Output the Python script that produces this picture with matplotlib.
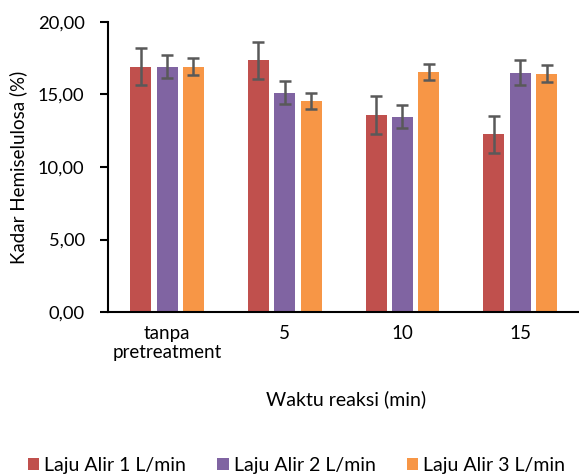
import numpy as np
import matplotlib
matplotlib.use("Agg")
import matplotlib.pyplot as plt
from matplotlib.ticker import FuncFormatter

plt.rcParams["font.family"] = ["Lato", "DejaVu Sans"]

categories = ["tanpa\npretreatment", "5", "10", "15"]
series = ["Laju Alir 1 L/min", "Laju Alir 2 L/min", "Laju Alir 3 L/min"]
laju1 = [16.92, 17.35, 13.59, 12.25]
laju2 = [16.92, 15.12, 13.47, 16.50]
laju3 = [16.92, 14.55, 16.55, 16.44]
err1 = [1.28, 1.27, 1.30, 1.27]
err2 = [0.82, 0.80, 0.80, 0.85]
err3 = [0.57, 0.56, 0.57, 0.57]

colors = ["#C0504D", "#8064A2", "#F79646"]
FS = 13.5

fig = plt.figure(figsize=(5.79, 4.75), dpi=100)
ax = fig.add_axes([0.187, 0.343, 0.813, 0.611])

x = np.arange(len(categories))
width = 0.178
step = 0.224
for i, (vals, errs) in enumerate(zip([laju1, laju2, laju3], [err1, err2, err3])):
    ax.bar(x + (i - 1) * step, vals, width, color=colors[i], label=series[i],
           yerr=errs, error_kw=dict(ecolor="#595959", elinewidth=1.8,
                                    capsize=4.5, capthick=1.8), zorder=2)

ax.set_xlim(-0.5, 3.5)
ax.set_ylim(0, 20)
ax.set_yticks([0, 5, 10, 15, 20])
ax.yaxis.set_major_formatter(FuncFormatter(lambda v, p: f"{v:.2f}".replace(".", ",")))
ax.set_xticks(x)
ax.set_xticklabels(categories, linespacing=1.2)
ax.tick_params(axis="x", length=0, pad=9, labelsize=FS)
ax.tick_params(axis="y", length=6, width=1.5, direction="out", labelsize=13.2, pad=11)

for s in ["top", "right"]:
    ax.spines[s].set_visible(False)
ax.spines["left"].set_linewidth(1.5)
ax.spines["bottom"].set_linewidth(1.5)

ax.set_ylabel("Kadar Hemiselulosa (%)", fontsize=FS, labelpad=8)
fig.text(0.597, 0.16, "Waktu reaksi (min)", ha="center", va="center", fontsize=FS + 0.5)

fig.legend(loc="center", bbox_to_anchor=(0.512, 0.02), ncol=3, frameon=False,
           fontsize=14, handlelength=0.6, handleheight=0.6, handletextpad=0.25,
           columnspacing=1.6)

fig.savefig("out.png", dpi=100)
